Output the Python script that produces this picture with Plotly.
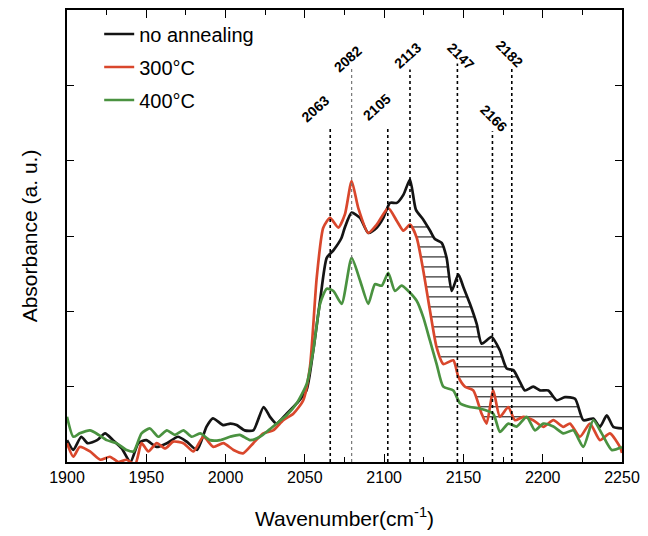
import numpy as np
import plotly.graph_objects as go

# ---------------- data ----------------
black_x = [1900, 1904, 1909, 1913, 1919, 1924, 1929, 1934.5, 1940, 1945, 1950, 1956.5, 1963, 1970, 1975.5,
           1982, 1988, 1992, 1998.5, 2003, 2007, 2012, 2017.5, 2024, 2028, 2032, 2038.5, 2045, 2051, 2055.3,
           2059.6, 2063.8, 2068, 2073, 2075, 2079.5, 2084.8, 2090, 2095.3, 2099.5, 2103.7, 2108, 2112.2,
           2116.3, 2120, 2124.6, 2129, 2132, 2136.3, 2139.4, 2142.6, 2146.8, 2150, 2154.1, 2158.4, 2161.5,
           2167.8, 2173, 2177.3, 2181.5, 2185.7, 2188.8, 2194, 2198.3, 2203.5, 2208.8, 2214, 2220.4, 2225.6,
           2231.9, 2236.1, 2240.4, 2244.5, 2250]
black_y = [0.29, 0.16, 0.335, 0.25, 0.29, 0.38, 0.29, 0.18, 0.0, 0.25, 0.29, 0.20, 0.25, 0.335, 0.27,
           0.16, 0.47, 0.58, 0.49, 0.51, 0.49, 0.42, 0.42, 0.73, 0.60, 0.51, 0.64, 0.78, 0.95, 1.48,
           2.14, 2.71, 2.81, 2.97, 3.10, 3.31, 3.24, 3.04, 3.11, 3.24, 3.44, 3.44, 3.55,
           3.75, 3.35, 3.22, 3.07, 2.96, 2.91, 2.71, 2.27, 2.49, 2.32, 2.10, 1.83, 1.57,
           1.66, 1.48, 1.24, 1.22, 1.06, 0.95, 1.0, 0.95, 0.95, 0.82, 0.86, 0.84, 0.555,
           0.577, 0.467, 0.62, 0.467, 0.445]

red_x = [1900, 1904, 1908, 1914.5, 1921, 1927, 1932.5, 1937.5, 1943, 1947, 1951.3, 1956.6, 1962, 1967,
         1973.4, 1979.7, 1986, 1992.3, 1998.6, 2005, 2011, 2017.5, 2023.8, 2030, 2036.4, 2042.7, 2049,
         2053.2, 2057.5, 2061.6, 2065.9, 2071.1, 2075.3, 2079.5, 2083.7, 2090, 2095.3, 2102.6, 2108,
         2112.2, 2116.3, 2120.5, 2124.7, 2128.9, 2133.1, 2137.3, 2143.6, 2146.8, 2151, 2156.2, 2161.5,
         2164.6, 2168.8, 2173, 2178.3, 2182.5, 2187.8, 2194, 2200.4, 2206.7, 2213, 2217.2, 2223.5,
         2229.8, 2236.1, 2242.4, 2248.7, 2250]
red_y = [0.25, 0.07, 0.20, 0.14, 0.03, 0.07, 0.0, 0.03, -0.03, 0.25, 0.14, 0.25, 0.18, 0.27,
         0.25, 0.14, 0.335, 0.20, 0.25, 0.16, 0.115, 0.25, 0.38, 0.42, 0.555, 0.64, 0.82,
         1.26, 2.45, 3.11, 3.24, 3.11, 3.29, 3.73, 3.37, 3.04, 3.15, 3.37, 3.20,
         3.07, 3.15, 2.98, 2.54, 2.01, 1.52, 1.30, 1.35, 1.13, 1.0, 0.95, 0.64,
         0.51, 0.95, 0.60, 0.73, 0.555, 0.60, 0.555, 0.467, 0.555, 0.467, 0.51, 0.335,
         0.51, 0.29, 0.38, 0.20, 0.12]

green_x = [1900, 1904, 1908, 1914.5, 1920, 1925, 1931.3, 1937.6, 1942, 1947, 1952.3, 1957.6, 1963, 1968,
           1973.4, 1978.6, 1984, 1990.2, 1996.5, 2002.8, 2009, 2015.4, 2021.7, 2027, 2032.2, 2038.5, 2044.9,
           2051.2, 2055.3, 2059.6, 2063.8, 2068, 2073.2, 2079.5, 2084.8, 2090, 2094.2, 2098.5, 2102.6,
           2106.8, 2111, 2115.2, 2120.5, 2124.7, 2128.9, 2133.1, 2137.3, 2143.6, 2147.8, 2154.1, 2160.4,
           2168.8, 2173, 2178.3, 2183.6, 2189.9, 2195.1, 2200.4, 2206.7, 2213, 2219.3, 2225.6, 2231.9,
           2237.2, 2243.5, 2250]
green_y = [0.60, 0.335, 0.38, 0.42, 0.36, 0.29, 0.25, 0.16, 0.14, 0.38, 0.445, 0.335, 0.42, 0.36,
           0.42, 0.335, 0.38, 0.29, 0.29, 0.335, 0.36, 0.29, 0.335, 0.42, 0.51, 0.62, 0.78,
           1.04, 1.48, 2.10, 2.30, 2.27, 2.10, 2.71, 2.41, 2.10, 2.36, 2.34, 2.51,
           2.27, 2.34, 2.27, 2.14, 1.92, 1.61, 1.30, 1.0, 0.95, 0.78, 0.73, 0.71,
           0.64, 0.40, 0.51, 0.47, 0.60, 0.42, 0.51, 0.47, 0.38, 0.42, 0.20, 0.555,
           0.38, 0.16, 0.20]

series_names = ["no annealing", "300°C", "400°C"]

peak_labels = ["2063", "2082", "2105", "2113", "2147", "2166", "2182"]
peak_positions = [2066, 2079.5, 2102.3, 2116.3, 2146.2, 2168.3, 2180.5]
peak_tops = [4.43, 5.22, 4.45, 5.21, 5.29, 4.39, 5.22]

x_ticks = [1900, 1950, 2000, 2050, 2100, 2150, 2200, 2250]

# ---------------- styles ----------------
colors = ["#141414", "#d9472c", "#4a9240"]
FONT = "Liberation Sans, Arial, sans-serif"

fig = go.Figure()

# hatching between black and red on the high-wavenumber side
bx, by = np.array(black_x, float), np.array(black_y, float)
rx, ry = np.array(red_x, float), np.array(red_y, float)


def first_crossing_below(xs, ys, level, x_from):
    for i in range(len(xs) - 1):
        if xs[i + 1] <= x_from:
            continue
        x0, y0, x1, y1 = xs[i], ys[i], xs[i + 1], ys[i + 1]
        if x0 < x_from:
            y0 = y0 + (y1 - y0) * (x_from - x0) / (x1 - x0)
            x0 = x_from
        if y0 >= level > y1:
            return x0 + (y0 - level) * (x1 - x0) / (y0 - y1)
    return None


hx, hy = [], []
for lev in np.linspace(3.12, 0.60, 20):
    xs = first_crossing_below(rx, ry, lev, 2116.3)
    if xs is None:
        continue
    xe = first_crossing_below(bx, by, lev, xs)
    if xe is None or xe <= xs:
        continue
    hx += [xs, xe, None]
    hy += [lev, lev, None]

fig.add_trace(go.Scatter(x=hx, y=hy, mode="lines", line=dict(color="black", width=1),
                         showlegend=False, hoverinfo="skip"))

for name, xs, ys, c in zip(series_names, [black_x, red_x, green_x], [black_y, red_y, green_y], colors):
    fig.add_trace(go.Scatter(x=xs, y=ys, mode="lines", name=name, legendgroup=name,
                             line=dict(color=c, width=2.7, shape="spline", smoothing=0.6)))

# dotted reference lines and rotated labels
label_shift = [(-15, 19), (-4, 10), (-11, 20), (-2, 15), (3, 7), (1, 13), (-2, 15)]
for i, (lab, xp, top) in enumerate(zip(peak_labels, peak_positions, peak_tops)):
    light = (lab == "2082")
    fig.add_shape(type="line", x0=xp, x1=xp, y0=0, y1=top, xref="x", yref="y",
                  line=dict(color="#777777" if light else "black", width=1.2 if light else 1.6, dash="dot"),
                  layer="above")
    up = i < 4
    fig.add_annotation(x=xp, y=top, xref="x", yref="y", text=lab, showarrow=False,
                       textangle=-42 if up else 45,
                       xshift=label_shift[i][0], yshift=label_shift[i][1],
                       font=dict(family=FONT, size=14, color="black", weight="bold"))

fig.update_layout(
    width=648, height=536,
    margin=dict(l=67, r=26, t=8, b=74),
    paper_bgcolor="white", plot_bgcolor="white",
    font=dict(family=FONT, color="black"),
    showlegend=True,
    legend=dict(x=0.058, y=0.99, xanchor="left", yanchor="top", bgcolor="rgba(0,0,0,0)",
                font=dict(family=FONT, size=20, color="black"), tracegroupgap=4,
                itemwidth=30),
    xaxis=dict(range=[1900, 2250], tickvals=x_ticks, ticks="inside", ticklen=8, tickwidth=1.3,
               tickcolor="black", showline=True, linecolor="black", linewidth=1.5, mirror="ticks",
               showgrid=False, zeroline=False,
               minor=dict(dtick=25, ticks="inside", ticklen=5, tickwidth=1.1, tickcolor="black", showgrid=False),
               tickfont=dict(family=FONT, size=16, color="black"),
               title=dict(text="Wavenumber(cm<sup>-1</sup>)", font=dict(family=FONT, size=21, color="black"),
                          standoff=26)),
    yaxis=dict(range=[0, 6], dtick=1, ticks="inside", ticklen=7, tickwidth=1.3, tickcolor="black",
               showticklabels=False, showline=True, linecolor="black", linewidth=1.5, mirror="ticks",
               showgrid=False, zeroline=False,
               title=dict(text="Absorbance (a. u.)", font=dict(family=FONT, size=21, color="black"),
                          standoff=22)),
)

fig.write_html("out.html")
